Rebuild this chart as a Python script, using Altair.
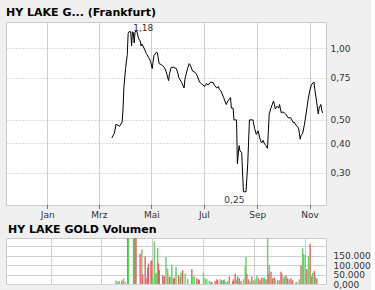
import altair as alt
import pandas as pd

# ---------------- data ----------------
BASE_DATE = "2024-01-01"
# price line: day offset from 1 Jan 2024, price in EUR
price_days = [75, 78, 80, 84, 87, 88, 89, 91, 93, 94, 95, 97, 98, 99, 100, 101, 102, 104,
              106, 108, 109, 110, 113, 115, 118, 120, 122, 123, 124, 127, 128, 130, 133,
              136, 138, 141, 142, 144, 147, 150, 152, 153, 156, 159, 160, 163, 165, 166,
              169, 172, 174, 177, 179, 181, 183, 185, 187, 190, 193, 194, 197, 199, 200,
              202, 205, 208, 210, 213, 214, 216, 217, 219, 220, 221, 222, 223, 224, 226,
              228, 229, 231, 233, 235, 237, 239, 241, 243, 245, 247, 249, 251, 252, 254,
              256, 257, 258, 260, 263, 264, 265, 267, 269, 270, 272, 274, 277, 280, 283,
              286, 287, 290, 292, 293, 294, 295, 297, 299, 301, 303, 305, 307, 309, 310,
              311, 313, 315, 316, 318, 319, 320]
price_vals = [0.42, 0.44, 0.48, 0.47, 0.49, 0.55, 0.68, 0.82, 0.94, 1.15, 1.17, 1.17, 1.02,
              1.17, 1.16, 1.05, 1.17, 1.18, 1.10, 1.07, 1.02, 1.04, 0.99, 0.95, 0.91, 0.88,
              0.82, 0.88, 0.93, 0.96, 0.955, 0.86, 0.85, 0.83, 0.80, 0.73, 0.78, 0.83,
              0.83, 0.82, 0.78, 0.75, 0.72, 0.68, 0.74, 0.82, 0.86, 0.85, 0.80, 0.79,
              0.77, 0.72, 0.71, 0.70, 0.69, 0.71, 0.70, 0.72, 0.716, 0.70, 0.68, 0.69,
              0.67, 0.66, 0.62, 0.58, 0.60, 0.62, 0.56, 0.56, 0.50, 0.50, 0.50, 0.327,
              0.36, 0.39, 0.37, 0.365, 0.25, 0.25, 0.25, 0.327, 0.50, 0.50, 0.50, 0.46,
              0.435, 0.45, 0.42, 0.40, 0.41, 0.40, 0.39, 0.38, 0.45, 0.53, 0.56, 0.60,
              0.58, 0.555, 0.57, 0.56, 0.58, 0.535, 0.54, 0.53, 0.51, 0.51, 0.487, 0.49,
              0.47, 0.464, 0.44, 0.415, 0.43, 0.44, 0.48, 0.535, 0.60, 0.66, 0.70, 0.716,
              0.72, 0.67, 0.60, 0.53, 0.56, 0.58, 0.55, 0.535]

# volume bars: day offset, shares, colour (g = up day, r = down day)
vol_days = [78, 80, 82, 85, 87, 89, 92, 93, 99, 100, 101, 102, 107, 109, 110, 113, 114,
            116, 117, 120, 121, 122, 124, 126, 127, 128, 129, 130, 134, 135, 136, 138,
            140, 142, 144, 145, 147, 148, 150, 153, 155, 156, 158, 161, 164, 169, 170,
            172, 175, 177, 178, 183, 185, 187, 190, 192, 193, 197, 199, 200, 203, 205,
            207, 208, 210, 212, 214, 218, 219, 221, 223, 224, 226, 228, 231, 233, 234,
            235, 237, 239, 241, 243, 245, 247, 249, 251, 253, 255, 256, 258, 260, 261,
            262, 264, 266, 268, 269, 272, 274, 276, 277, 279, 280, 282, 284, 286, 288,
            290, 294, 295, 298, 300, 302, 303, 305, 307, 309, 311, 313, 314, 316, 317, 319]
vol_vals = [19000, 12000, 16000, 19000, 30000, 12000, 300000, 300000, 300000, 300000,
            300000, 300000, 161000, 184000, 51000, 147000, 33000, 88000, 109000, 123000,
            126000, 35000, 226000, 56000, 61000, 191000, 109000, 74000, 47000, 37000,
            42000, 144000, 82000, 39000, 39000, 103000, 30000, 33000, 91000, 47000,
            37000, 61000, 74000, 56000, 28000, 79000, 40000, 40000, 30000, 25000, 20000,
            60000, 30000, 25000, 15000, 12000, 10000, 15000, 25000, 20000, 25000, 20000,
            20000, 25000, 10000, 15000, 40000, 15000, 25000, 55000, 25000, 40000, 30000,
            15000, 25000, 95000, 145000, 55000, 25000, 15000, 40000, 20000, 25000, 45000,
            30000, 20000, 35000, 30000, 35000, 25000, 245000, 55000, 100000, 65000, 30000,
            35000, 25000, 20000, 20000, 65000, 55000, 30000, 40000, 45000, 30000, 25000,
            30000, 20000, 10000, 10000, 25000, 100000, 190000, 160000, 155000, 80000,
            150000, 215000, 40000, 60000, 70000, 40000, 30000]
vol_col = ["g", "g", "g", "r", "g", "g", "r", "g", "g", "r", "g", "r", "r", "g", "r", "r",
           "r", "r", "r", "r", "r", "g", "g", "r", "g", "g", "r", "r", "r", "g", "r", "g",
           "g", "r", "g", "g", "r", "r", "g", "r", "r", "g", "r", "g", "g", "r", "g", "g",
           "r", "r", "r", "g", "g", "g", "g", "g", "r", "r", "r", "r", "g", "r", "r", "g",
           "g", "g", "r", "r", "r", "r", "g", "r", "r", "r", "g", "g", "g", "r", "r", "g",
           "r", "g", "g", "g", "r", "r", "r", "g", "g", "r", "g", "r", "g", "r", "r", "r",
           "g", "r", "g", "r", "r", "g", "g", "r", "r", "g", "r", "r", "g", "g", "g", "r",
           "g", "g", "g", "r", "g", "r", "r", "g", "r", "g", "r"]

month_names = ["Jan", "Feb", "Mrz", "Apr", "Mai", "Jun", "Jul", "Aug", "Sep", "Okt", "Nov", "Dez"]
tick_months = [1, 3, 5, 7, 9, 11]
price_ticks = [0.3, 0.4, 0.5, 0.75, 1.0]
vol_ticks = [0, 50000, 100000, 150000, 200000]
max_label = ["1,18"]
min_label = ["0,25"]
max_day, max_val = [101], [1.18]
min_day, min_val = [228], [0.25]

# ---------------- tables ----------------
base = pd.Timestamp(BASE_DATE)
def to_dates(days):
    return [(base + pd.Timedelta(days=d)).strftime("%Y-%m-%d") for d in days]

price_df = pd.DataFrame({"date": to_dates(price_days), "price": price_vals})
vol_df = pd.DataFrame({"date": to_dates(vol_days), "vol": vol_vals, "c": vol_col})
max_df = pd.DataFrame({"date": to_dates(max_day), "price": max_val, "t": max_label})
min_df = pd.DataFrame({"date": to_dates(min_day), "price": min_val, "t": min_label})

FONT = "DejaVu Sans"
x_domain = [alt.DateTime(year=2023, month=11, date=14), alt.DateTime(year=2024, month=11, date=20)]
x_vals = [alt.DateTime(year=2024, month=m, date=1) for m in tick_months]
month_expr = "[" + ",".join(f"'{m}'" for m in month_names) + "][month(datum.value)]"

x_top = alt.X("date:T", scale=alt.Scale(domain=x_domain),
              axis=alt.Axis(values=x_vals, labelExpr=month_expr, title=None,
                            grid=True, gridColor="#d0d0d0", gridWidth=1,
                            domain=False, tickColor="#000", tickSize=4, tickDash=[1, 1],
                            labelFont=FONT, labelFontSize=9, labelColor="#333",
                            labelPadding=1))
y_price = alt.Y("price:Q",
                scale=alt.Scale(type="log", domain=[0.22, 1.285], nice=False),
                axis=alt.Axis(orient="right", values=price_ticks, title=None,
                              labelExpr="replace(format(datum.value, '.2f'), '.', ',')",
                              grid=True, gridColor="#b8b8b8", gridDash=[1, 2],
                              ticks=False, domain=False, labelPadding=4,
                              labelFont=FONT, labelFontSize=9, labelColor="#333"))

line = alt.Chart(price_df).mark_line(color="#000", strokeWidth=1, clip=True).encode(
    x=x_top, y=y_price)
tmax = alt.Chart(max_df).mark_text(align="left", baseline="alphabetic", font=FONT,
                                   fontSize=9, color="#333", dx=-1, dy=0).encode(
    x="date:T", y="price:Q", text="t:N")
tmin = alt.Chart(min_df).mark_text(align="right", baseline="top", font=FONT,
                                   fontSize=9, color="#333", dx=1, dy=4).encode(
    x="date:T", y="price:Q", text="t:N")

top = alt.layer(line, tmax, tmin).properties(
    width=320, height=183,
    title=alt.TitleParams("HY LAKE G... (Frankfurt)", anchor="start", font=FONT,
                          fontSize=11, fontWeight="bold", color="#000", offset=4))

x_bot = alt.X("date:T", scale=alt.Scale(domain=x_domain),
              axis=alt.Axis(values=x_vals, labels=False, ticks=False, domain=False,
                            title=None, grid=True, gridColor="#d0d0d0"))
y_vol = alt.Y("vol:Q", scale=alt.Scale(domain=[0, 245000], nice=False),
              axis=alt.Axis(orient="right", values=vol_ticks, title=None,
                            labelExpr="datum.value == 0 ? '0,000' : datum.value >= 200000 ? '' : replace(format(datum.value, ','), ',', '.')",
                            grid=True, gridColor="#d0d0d0", ticks=False, domain=False,
                            labelPadding=7, labelFont=FONT, labelFontSize=9,
                            labelColor="#333"))
bars = alt.Chart(vol_df).mark_bar(width=1.4, clip=True).encode(
    x=x_bot, y=y_vol,
    color=alt.Color("c:N", scale=alt.Scale(domain=["g", "r"], range=["#66d066", "#dd6666"]),
                    legend=None))
bottom = bars.properties(
    width=320, height=46,
    title=alt.TitleParams("HY LAKE GOLD Volumen", anchor="start", font=FONT, fontSize=11,
                          fontWeight="bold", color="#000", offset=3, dx=2))

chart = alt.vconcat(top, bottom, spacing=3).properties(
    background="#f0f0f0",
    padding={"left": 5, "top": 6, "right": 0, "bottom": 0},
).configure_view(stroke="#c8c8c8", fill="#ffffff", strokeWidth=1)

chart.save("out.html", embed_options={"renderer": "svg", "actions": False})
